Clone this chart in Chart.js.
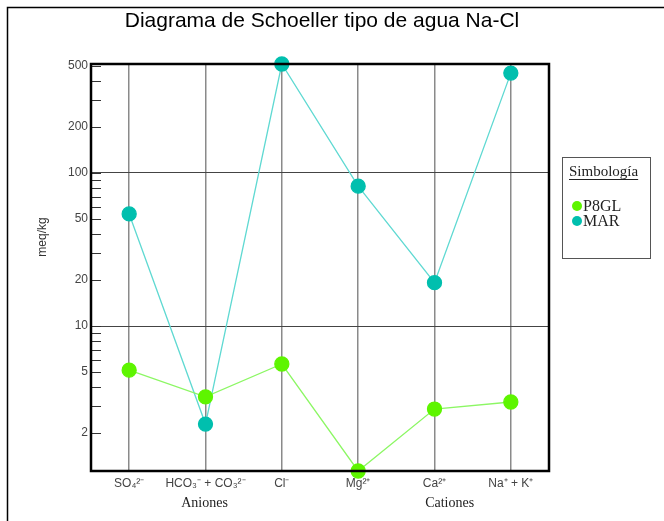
<!DOCTYPE html>
<html>
<head>
<meta charset="utf-8">
<script src="https://cdn.jsdelivr.net/npm/chart.js@4"></script>
<style>
html,body{margin:0;padding:0;background:#fff;}
#wrap{width:664px;height:521px;position:relative;}
</style>
</head>
<body>
<div id="wrap"><canvas id="c" width="664" height="521"></canvas></div>
<script>
const categories = ["SO\u2084\u00B2\u207B", "HCO\u2083\u207B + CO\u2083\u00B2\u207B", "Cl\u207B", "Mg\u00B2\u207A", "Ca\u00B2\u207A", "Na\u207A + K\u207A"];
const p8glValues = [5.15, 3.45, 5.65, 1.13, 2.87, 3.19];
const marValues = [54, 2.29, 515, 82, 19.2, 449];
const yTickValues = [2,3,4,5,6,7,8,9,10,20,30,40,50,60,70,80,90,100,200,300,400,500];
const yLabeledTicks = [2,5,10,20,50,100,200,500];
const yMajorGrid = [10,100];
const yMin = 1.13, yMax = 515;
const seriesNames = ["P8GL", "MAR"];
const groupLabels = ["Aniones", "Cationes"];
const titleText = "Diagrama de Schoeller tipo de agua Na-Cl";
const yTitle = "meq/kg";
const legendTitle = "Simbología";

const greenPoint = "#5ef500", greenLine = "#8cf764";
const tealPoint = "#00bfae", tealLine = "#5fd9d2";

const extras = {
  id: "extras",
  afterDraw(chart) {
    const ctx = chart.ctx, a = chart.chartArea, y = chart.scales.y, x = chart.scales.x;
    ctx.save();
    // outer frame (top & left)
    ctx.strokeStyle = "#000"; ctx.lineWidth = 1.5;
    ctx.beginPath(); ctx.moveTo(7.5, 521); ctx.lineTo(7.5, 7.5); ctx.lineTo(664, 7.5); ctx.stroke();
    // inner ticks
    ctx.strokeStyle = "#333"; ctx.lineWidth = 1;
    yTickValues.forEach(v => {
      const py = Math.round(y.getPixelForValue(v)) + 0.5;
      ctx.beginPath(); ctx.moveTo(a.left, py); ctx.lineTo(a.left + 10, py); ctx.stroke();
    });
    // plot border
    ctx.strokeStyle = "#000"; ctx.lineWidth = 2.5;
    ctx.strokeRect(a.left, a.top, a.right - a.left, a.bottom - a.top);
    // title
    ctx.fillStyle = "#000"; ctx.font = "21px 'Liberation Sans', Arial, sans-serif";
    ctx.textAlign = "center"; ctx.textBaseline = "middle";
    ctx.fillText(titleText, 322, 21);
    // y title
    ctx.save(); ctx.translate(43, 237); ctx.rotate(-Math.PI/2);
    ctx.fillStyle = "#333"; ctx.font = "12px 'Liberation Sans', Arial, sans-serif";
    ctx.fillText(yTitle, 0, 0); ctx.restore();
    // group labels
    ctx.fillStyle = "#222"; ctx.font = "14px 'Liberation Serif', 'Times New Roman', serif";
    ctx.fillText(groupLabels[0], (x.getPixelForValue(0) + x.getPixelForValue(2)) / 2 - 1, 503);
    ctx.fillText(groupLabels[1], (x.getPixelForValue(4) + x.getPixelForValue(5)) / 2 - 23, 503);
    // legend box
    ctx.strokeStyle = "#555"; ctx.lineWidth = 1;
    ctx.strokeRect(562.5, 157.5, 88, 101);
    ctx.font = "15px 'Liberation Serif', 'Times New Roman', serif";
    ctx.textAlign = "left"; ctx.fillStyle = "#222";
    ctx.fillText(legendTitle, 569, 172);
    const w = ctx.measureText(legendTitle).width;
    ctx.strokeStyle = "#222"; ctx.beginPath(); ctx.moveTo(569, 179.5); ctx.lineTo(569 + w, 179.5); ctx.stroke();
    const cols = [greenPoint, tealPoint];
    ctx.font = "16px 'Liberation Serif', 'Times New Roman', serif";
    seriesNames.forEach((n, i) => {
      const cy = 206 + i * 15;
      ctx.fillStyle = cols[i]; ctx.beginPath(); ctx.arc(577, cy, 5, 0, Math.PI * 2); ctx.fill();
      ctx.fillStyle = "#222"; ctx.fillText(n, 583, cy + 1);
    });
    ctx.restore();
  }
};

new Chart(document.getElementById("c"), {
  type: "line",
  data: {
    labels: categories,
    datasets: [
      { label: seriesNames[0], data: p8glValues, borderColor: greenLine, backgroundColor: greenPoint,
        pointBackgroundColor: greenPoint, pointBorderColor: greenPoint, pointRadius: 7, borderWidth: 1.3, clip: false },
      { label: seriesNames[1], data: marValues, borderColor: tealLine, backgroundColor: tealPoint,
        pointBackgroundColor: tealPoint, pointBorderColor: tealPoint, pointRadius: 7, borderWidth: 1.3, clip: false }
    ]
  },
  options: {
    responsive: false, animation: false,
    layout: { padding: { top: 64, right: 115, left: 0, bottom: 0 } },
    plugins: { legend: { display: false }, title: { display: false }, tooltip: { enabled: false } },
    scales: {
      x: {
        type: "category", offset: true,
        grid: { offset: false, color: "#8a8a8a", lineWidth: 1.5, drawTicks: false },
        border: { display: false },
        ticks: { color: "#444", padding: 5, font: { family: "'Liberation Sans', Arial, sans-serif", size: 12 }, maxRotation: 0, autoSkip: false },
        afterFit: s => { s.height = 50; }
      },
      y: {
        type: "logarithmic", min: yMin, max: yMax,
        afterBuildTicks: s => { s.ticks = yTickValues.map(v => ({ value: v })); },
        grid: { drawTicks: false, color: c => (c.tick && yMajorGrid.includes(c.tick.value)) ? "#444" : "rgba(0,0,0,0)", lineWidth: 1 },
        border: { display: false },
        ticks: { color: "#444", padding: 3, autoSkip: false,
          font: { family: "'Liberation Sans', Arial, sans-serif", size: 12 },
          callback: v => yLabeledTicks.includes(v) ? String(v) : "" },
        afterFit: s => { s.width = 91; }
      }
    }
  },
  plugins: [extras]
});
</script>
</body>
</html>
